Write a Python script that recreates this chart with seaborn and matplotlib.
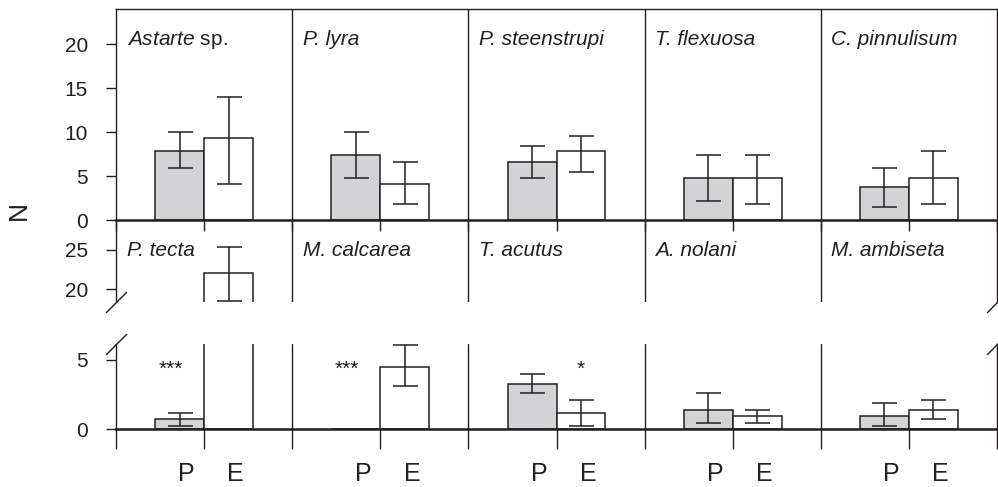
import numpy as np
import pandas as pd
import matplotlib
matplotlib.use('Agg')
import matplotlib.pyplot as plt
import matplotlib.transforms as mtransforms
import seaborn as sns

# ---- data ----
groups = ['P', 'E']

top_species = ['Astarte sp.', 'P. lyra', 'P. steenstrupi', 'T. flexuosa', 'C. pinnulisum']
top_p_mean = [7.8, 7.4, 6.6, 4.8, 3.7]
top_p_low = [5.9, 4.8, 4.8, 2.2, 1.5]
top_p_high = [10.0, 10.0, 8.45, 7.4, 5.9]
top_e_mean = [9.3, 4.1, 7.8, 4.8, 4.8]
top_e_low = [4.1, 1.85, 5.5, 1.85, 1.85]
top_e_high = [14.0, 6.6, 9.6, 7.4, 7.8]

bottom_species = ['P. tecta', 'M. calcarea', 'T. acutus', 'A. nolani', 'M. ambiseta']
bottom_p_mean = [0.72, 0.0, 3.3, 1.4, 0.96]
bottom_p_low = [0.24, np.nan, 2.6, 0.48, 0.24]
bottom_p_high = [1.2, np.nan, 4.0, 2.6, 1.9]
bottom_e_mean = [22.1, 4.5, 1.2, 0.96, 1.4]
bottom_e_low = [18.5, 3.1, 0.24, 0.48, 0.72]
bottom_e_high = [25.4, 6.1, 2.1, 1.4, 2.1]

p_stars = ['***', '***', '', '', '']
e_stars = ['', '', '*', '', '']

INK = '#231f20'
GREY = '#d1d3d4'
BAR_WIDTH = 0.556

sns.set_style('ticks')
plt.rcParams['font.family'] = ['Liberation Sans', 'DejaVu Sans']
plt.rcParams['mathtext.fontset'] = 'custom'
plt.rcParams['mathtext.rm'] = 'Liberation Sans'
plt.rcParams['mathtext.it'] = 'Liberation Sans:italic'
plt.rcParams['text.color'] = INK
plt.rcParams['axes.edgecolor'] = INK
plt.rcParams['xtick.color'] = INK
plt.rcParams['ytick.color'] = INK
plt.rcParams['ytick.labelcolor'] = INK


def species_label(ax, x, y, name):
    # genus only in italics when followed by "sp."
    if name.endswith(' sp.'):
        ax.text(x, y, r'$\mathit{' + name[:-4] + '}$ sp.', fontsize=15, ha='left', va='baseline')
    else:
        ax.text(x, y, name, fontsize=15, style='italic', ha='left', va='baseline')


def draw_bars(ax, species, p_mean, e_mean, p_low, p_high, e_low, e_high):
    df = pd.DataFrame({'species': species * 2,
                       'group': ['P'] * len(species) + ['E'] * len(species),
                       'N': list(p_mean) + list(e_mean)})
    sns.barplot(data=df, x='species', y='N', hue='group', order=species, hue_order=groups,
                palette={'P': GREY, 'E': 'white'}, saturation=1, width=BAR_WIDTH,
                edgecolor=INK, linewidth=1.1, errorbar=None, legend=False, ax=ax)
    idx = np.arange(len(species))
    off = BAR_WIDTH / 4
    for xs, m, lo, hi in [(idx - off, p_mean, p_low, p_high), (idx + off, e_mean, e_low, e_high)]:
        m = np.array(m, dtype=float)
        err = [m - np.array(lo, dtype=float), np.array(hi, dtype=float) - m]
        ax.errorbar(xs, m, yerr=err, fmt='none', ecolor=INK, elinewidth=1.1,
                    capsize=9, capthick=1.1, zorder=4)
    for i in range(len(species) - 1):
        ax.axvline(i + 0.5, color=INK, lw=1.0, zorder=3)
    ax.set_xlim(-0.5, len(species) - 0.5)
    ax.set_xlabel('')
    ax.set_ylabel('')
    ax.set_xticks(np.arange(-0.5, len(species), 0.5))
    ax.tick_params(axis='x', labelbottom=False, width=1.0, direction='out')
    ax.tick_params(axis='y', labelsize=15, length=7.2, width=1.0, pad=13, direction='out')
    ax.patch.set_visible(False)
    for s in ax.spines.values():
        s.set_linewidth(1.0)
        s.set_visible(True)


fig = plt.figure(figsize=(9.98, 4.87), dpi=100)
W, H = 998, 487
left, right = 116 / W, 997 / W


def add_ax(top_px, bottom_px):
    return fig.add_axes([left, 1 - bottom_px / H, right - left, (bottom_px - top_px) / H])


ax_mid = add_ax(220, 302)
ax_low = add_ax(344, 429.3)
ax_top = add_ax(9, 220)

# top row
draw_bars(ax_top, top_species, top_p_mean, top_e_mean, top_p_low, top_p_high, top_e_low, top_e_high)
ax_top.set_ylim(0, 24)
ax_top.set_yticks([0, 5, 10, 15, 20])
ax_top.tick_params(axis='x', length=8)
ax_top.spines['bottom'].set_linewidth(1.8)
for i, name in enumerate(top_species):
    species_label(ax_top, i - 0.5 + 0.06, 19.9, name)

# bottom row, broken axis
for ax in (ax_mid, ax_low):
    draw_bars(ax, bottom_species, bottom_p_mean, bottom_e_mean,
              bottom_p_low, bottom_p_high, bottom_e_low, bottom_e_high)

ax_mid.set_ylim(18.35, 28.8)
ax_mid.set_yticks([20, 25])
ax_mid.spines['top'].set_visible(False)
ax_mid.spines['bottom'].set_visible(False)
ax_mid.tick_params(axis='x', length=0)
for i, name in enumerate(bottom_species):
    species_label(ax_mid, i - 0.5 + 0.06, 24.15, name)

ax_low.set_ylim(0, 6.15)
ax_low.set_yticks([0, 5])
ax_low.spines['top'].set_visible(False)
ax_low.spines['bottom'].set_linewidth(1.8)
ax_low.tick_params(axis='x', length=14.4)

off = BAR_WIDTH / 4
for i in range(len(bottom_species)):
    if p_stars[i]:
        ax_low.text(i - off - 0.05, 3.95, p_stars[i], fontsize=15, ha='center', va='baseline')
    if e_stars[i]:
        ax_low.text(i + off, 3.95, e_stars[i], fontsize=15, ha='center', va='baseline')

# break marks
kw = dict(marker=[(-1, -1), (1, 1)], markersize=15, linestyle='none', color=INK,
          mec=INK, mew=1.0, clip_on=False)
ax_mid.plot([0, 1], [0, 0], transform=ax_mid.transAxes, **kw)
ax_low.plot([0, 1], [1, 1], transform=ax_low.transAxes, **kw)

# P / E group labels under each pair
trans = mtransforms.blended_transform_factory(ax_low.transData, fig.transFigure)
for i in range(len(bottom_species)):
    for g, dx in zip(groups, (-off, off)):
        ax_low.text(i + dx + 0.04, 1 - 462 / H, g, fontsize=18, ha='center', va='top',
                    transform=trans, clip_on=False)

fig.text(19 / W, 1 - 210 / H, 'N', rotation=90, fontsize=19, ha='center', va='center')

fig.savefig('out.png', dpi=100, facecolor='white')
